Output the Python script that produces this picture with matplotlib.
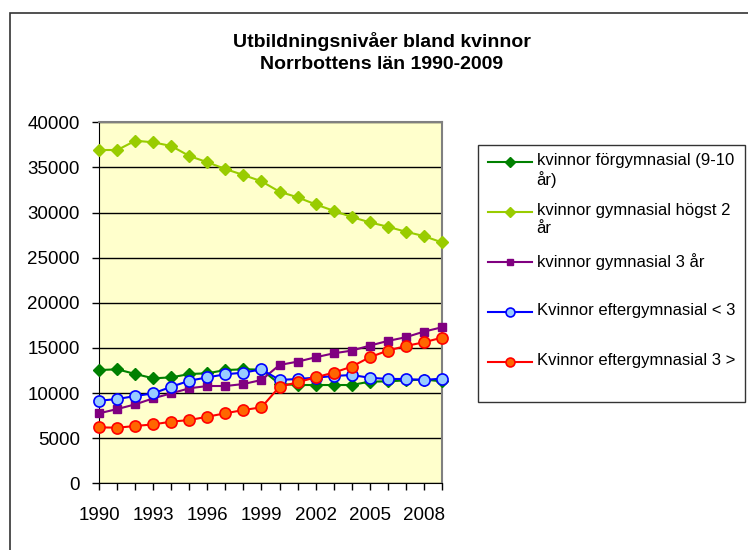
import matplotlib
matplotlib.use("Agg")
import matplotlib.pyplot as plt
from matplotlib.lines import Line2D
from matplotlib.patches import Rectangle

plt.rcParams['font.family'] = ['Liberation Sans', 'DejaVu Sans']

# data
years = list(range(1990, 2010))
forgymnasial = [12550, 12630, 12110, 11630, 11740, 12110, 12190, 12550, 12630, 12600,
                11000, 10890, 10890, 10890, 10890, 11260, 11300, 11400, 11500, 11300]
gymn_hogst2 = [36930, 36930, 37960, 37780, 37370, 36260, 35570, 34820, 34160, 33460,
               32310, 31690, 30910, 30200, 29510, 28920, 28430, 27880, 27400, 26700]
gymn_3ar = [7760, 8230, 8750, 9420, 9970, 10530, 10780, 10780, 11000, 11450,
            13110, 13480, 13960, 14400, 14700, 15250, 15770, 16180, 16800, 17280]
efter_kort = [9150, 9340, 9670, 9970, 10700, 11370, 11740, 12080, 12260, 12630,
              11450, 11560, 11700, 11890, 12000, 11700, 11560, 11560, 11450, 11600]
efter_lang = [6200, 6160, 6350, 6530, 6830, 7010, 7380, 7760, 8120, 8420,
              10700, 11190, 11740, 12260, 12920, 13960, 14700, 15210, 15620, 16130]

labels = ["kvinnor förgymnasial (9-10\når)",
          "kvinnor gymnasial högst 2\når",
          "kvinnor gymnasial 3 år",
          "Kvinnor eftergymnasial < 3",
          "Kvinnor eftergymnasial 3 >"]
serier = [forgymnasial, gymn_hogst2, gymn_3ar, efter_kort, efter_lang]
x_labels = [str(y) if (y - 1990) % 3 == 0 else "" for y in years]

stil = [
    dict(color="#008000", marker="D", ms=6, mfc="#008000", mec="#008000"),
    dict(color="#99CC00", marker="D", ms=6, mfc="#99CC00", mec="#99CC00"),
    dict(color="#800080", marker="s", ms=6, mfc="#800080", mec="#800080"),
    dict(color="#0000FF", marker="o", ms=8, mfc="#99CCFF", mec="#0000FF", mew=1.2),
    dict(color="#FF0000", marker="o", ms=8, mfc="#FF6600", mec="#FF0000", mew=1.2),
]

W, H = 748, 550
fig = plt.figure(figsize=(W / 100, H / 100), dpi=100)

# outer chart frame (cut off at right and bottom like in the reference)
fig.patches.append(Rectangle((10 / W, -0.1), 1.2, 1 - 13 / H + 0.1,
                             transform=fig.transFigure, fill=False,
                             edgecolor="#333333", lw=1.2))

ax = fig.add_axes([99.3 / W, 1 - 483.3 / H, (441.7 - 99.3) / W, (483.3 - 122.3) / H])
ax.set_facecolor("#FFFFCC")

for data, st in zip(serier, stil):
    ax.plot(years, data, lw=1.5, clip_on=False, zorder=3, **st)

ax.set_xlim(1990, 2009)
ax.set_ylim(0, 40000)
ax.set_yticks(range(0, 40001, 5000))
ax.set_xticks(years)
ax.set_xticklabels(x_labels)
ax.grid(True, axis="y", color="black", lw=1)
ax.set_axisbelow(True)
ax.tick_params(axis="both", direction="out", length=5, width=1, labelsize=13.5, color="black")
ax.tick_params(axis="y", pad=9)
ax.tick_params(axis="x", pad=12)
for s in ["left", "bottom"]:
    ax.spines[s].set_color("black")
for s in ["top", "right"]:
    ax.spines[s].set_color("#808080")
    ax.spines[s].set_linewidth(1.5)

fig.text(382 / W, 1 - 52.5 / H, "Utbildningsnivåer bland kvinnor\nNorrbottens län 1990-2009",
         ha="center", va="center", fontsize=14, fontweight="bold", linespacing=1.35)

# legend box drawn by hand to follow Excel layout
fig.patches.append(Rectangle((478.3 / W, 1 - 401.7 / H), (745 - 478.3) / W, (401.7 - 145) / H,
                             transform=fig.transFigure, fill=False, edgecolor="#333333", lw=1))
for i, (lab, st) in enumerate(zip(labels, stil)):
    yc = 161.7 + 50 * i
    fig.add_artist(Line2D([488 / W, 532 / W], [1 - yc / H, 1 - yc / H],
                          transform=fig.transFigure, lw=1.5, color=st["color"]))
    fig.add_artist(Line2D([510 / W], [1 - yc / H], transform=fig.transFigure,
                          marker=st["marker"], ms=st["ms"] * 0.8, mfc=st["mfc"], mec=st["mec"],
                          mew=st.get("mew", 1), linestyle="none"))
    fig.text(536.7 / W, 1 - (yc - 9) / H, lab, ha="left", va="top", fontsize=12, linespacing=1.25)

fig.savefig("out.png", dpi=100)
